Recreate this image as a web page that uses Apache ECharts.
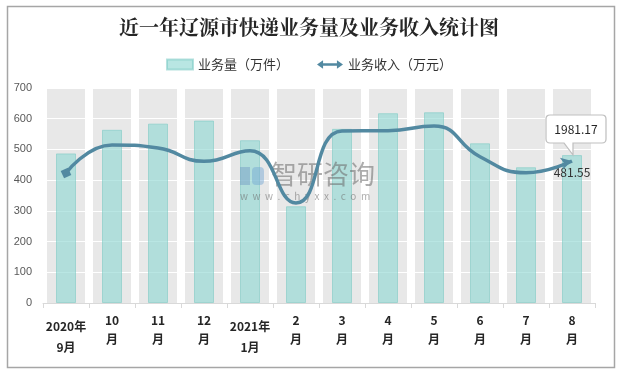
<!DOCTYPE html>
<html><head><meta charset="utf-8">
<script src="https://cdn.jsdelivr.net/npm/echarts@6/dist/echarts.min.js"></script>
<style>html,body{margin:0;padding:0;background:#fff}#c{width:618px;height:370px}</style>
</head><body><div id="c"></div>
<script>
var months = ['2020年\n9月','10\n月','11\n月','12\n月','2021年\n1月','2\n月','3\n月','4\n月','5\n月','6\n月','7\n月','8\n月'];
var volume = [487, 564, 584, 594, 530, 315, 567, 618, 621, 520, 442, 481.55];
var revenue = [1814, 2205, 2163, 1977, 2125, 1395, 2400, 2404, 2470, 2041, 1818, 1981.17];
var yTicks = {min: 0, max: 700, interval: 100};
var y2Range = {min: 0, max: 3000};

var chart = echarts.init(document.getElementById('c'), null, {renderer: 'canvas'});
var font = '"Noto Sans CJK SC", "Microsoft YaHei", sans-serif';
var lineColor = '#5289a1';
var n = volume.length;

var volData = volume.map(function (v, i) {
  if (i === n - 1) return {value: v, label: {show: true, position: 'insideTop', distance: 11, color: '#333', fontSize: 12, fontFamily: font,
    formatter: function (p) { return p.value.toFixed(2); }}};
  return v;
});
var revData = revenue.map(function (v, i) {
  if (i === 0) return {value: v, symbol: 'rect', symbolSize: 8, symbolRotate: 25};
  if (i === n - 1) return {value: v, symbol: 'arrow', symbolSize: [9, 11], symbolRotate: -76};
  return v;
});
var bgData = months.map(function () { return yTicks.max; });
var wmColor = 'rgba(105,105,105,0.55)';

chart.setOption({
  backgroundColor: '#fff',
  animation: false,
  textStyle: {fontFamily: font},
  title: {
    text: '近一年辽源市快递业务量及业务收入统计图', left: 'center', top: 12,
    textStyle: {fontSize: 20, fontWeight: 'bold', color: '#262626', fontFamily: '"Noto Serif CJK SC","Noto Sans CJK SC", serif'}
  },
  legend: {
    top: 53, left: 'center', itemGap: 28, itemWidth: 26, itemHeight: 10,
    textStyle: {fontSize: 13, color: '#333', fontFamily: font},
    data: [
      {name: '业务量（万件）', icon: 'rect'},
      {name: '业务收入（万元）', icon: 'path://M0,5 L7,0 L7,3.5 L23,3.5 L23,0 L30,5 L23,10 L23,6.5 L7,6.5 L7,10 Z'}
    ]
  },
  grid: {left: 43, right: 23, top: 88, bottom: 67},
  xAxis: [{
    type: 'category', data: months, z: 1,
    axisLine: {lineStyle: {color: '#d9d9d9'}},
    axisTick: {show: true, length: 5, lineStyle: {color: '#d9d9d9'}},
    axisLabel: {
      interval: 0, margin: 8, fontFamily: font,
      formatter: function (v) {
        var parts = v.split('\n');
        if (parts[0].indexOf('年') >= 0) return '{a|' + parts[0] + '}\n{b|' + parts[1] + '}';
        return '{c|' + parts[0] + '}\n{c|' + parts[1] + '}';
      },
      rich: {
        a: {fontSize: 12, fontWeight: 'bold', color: '#262626', lineHeight: 30, fontFamily: font},
        b: {fontSize: 12, fontWeight: 'bold', color: '#262626', lineHeight: 12, fontFamily: font},
        c: {fontSize: 12, fontWeight: 'bold', color: '#262626', lineHeight: 19, fontFamily: font}
      }
    }
  }, {
    type: 'category', data: months, show: false
  }],
  yAxis: [{
    type: 'value', min: yTicks.min, max: yTicks.max, interval: yTicks.interval, z: 1,
    axisLine: {show: false}, axisTick: {show: false},
    axisLabel: {color: '#595959', fontSize: 11, margin: 11, fontFamily: '"Liberation Sans", Arial, sans-serif'},
    splitLine: {lineStyle: {color: '#ffffff', width: 1}}
  }, {
    type: 'value', min: y2Range.min, max: y2Range.max, show: false, splitLine: {show: false}
  }],
  series: [{
    name: 'bg', type: 'bar', xAxisIndex: 1, yAxisIndex: 0, data: bgData, barWidth: 38, z: 0,
    itemStyle: {color: '#e8e8e8'}, silent: true, legendHoverLink: false
  }, {
    name: '业务量（万件）', type: 'bar', data: volData, barWidth: 20, z: 2,
    itemStyle: {color: 'rgba(149,217,212,0.66)', borderColor: 'rgba(120,200,194,0.55)', borderWidth: 1}
  }, {
    name: '业务收入（万元）', type: 'line', yAxisIndex: 1, data: revData, smooth: 0.5, symbol: 'none', z: 4,
    lineStyle: {color: lineColor, width: 3.5},
    itemStyle: {color: lineColor},
    markPoint: {
      symbol: 'path://M4,0 H56 Q60,0 60,4 V24 Q60,28 56,28 H27 L27,40 L18,28 H4 Q0,28 0,24 V4 Q0,0 4,0 Z',
      symbolSize: [60, 40], symbolKeepAspect: false, symbolOffset: [4, -26],
      itemStyle: {color: '#fff', borderColor: '#bfbfbf', borderWidth: 1},
      label: {show: true, color: '#262626', fontSize: 12, offset: [0, -6], fontFamily: font,
        formatter: function (p) { return p.value.toFixed(2); }},
      data: [{coord: [n - 1, revenue[n - 1]], value: revenue[n - 1]}]
    }
  }],
  graphic: [{
    type: 'rect', left: 5, top: 4, shape: {width: 607, height: 361}, z: -1,
    style: {fill: 'none', stroke: '#a6a6a6', lineWidth: 1.5}
  }, {
    type: 'rect', left: 240, top: 167, z: 3, silent: true,
    shape: {width: 10, height: 18}, style: {fill: 'rgba(110,150,195,0.45)'}
  }, {
    type: 'rect', left: 252, top: 167, z: 3, silent: true,
    shape: {width: 12, height: 18, r: 4}, style: {fill: 'rgba(110,165,210,0.45)'}
  }, {
    type: 'text', left: 271, top: 161, z: 3, silent: true,
    style: {text: '智研咨询', fontSize: 26, fill: wmColor, fontFamily: font}
  }, {
    type: 'text', left: 240, top: 191, z: 3, silent: true,
    style: {text: 'w  w  w  .  c  h  y  x  x  .  c  o  m', fontSize: 10, fill: wmColor, fontFamily: font}
  }]
});
</script></body></html>
